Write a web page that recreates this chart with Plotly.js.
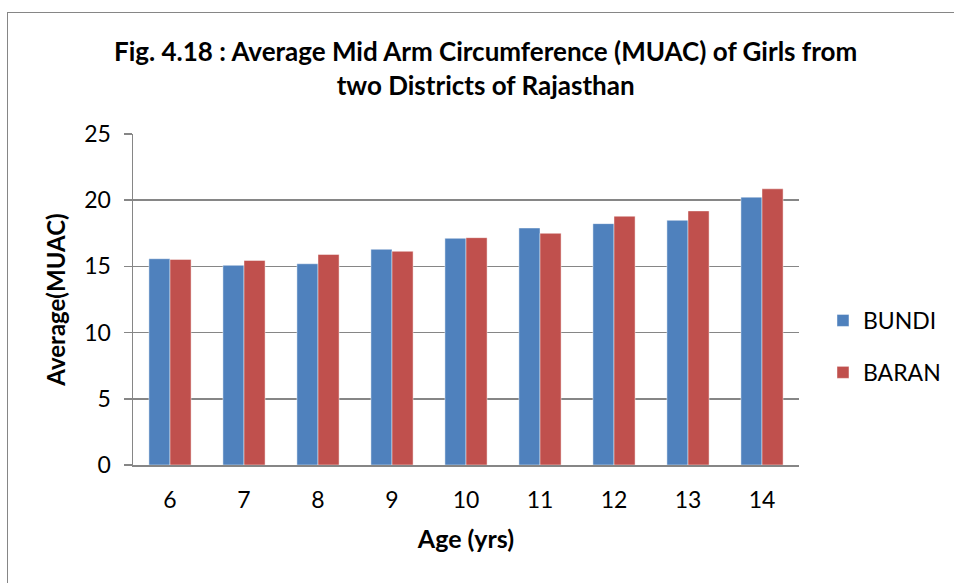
<!DOCTYPE html>
<html>
<head>
<meta charset="utf-8">
<script src="https://cdn.plot.ly/plotly-3.0.1.min.js"></script>
<style>
html, body { margin: 0; padding: 0; background: #ffffff; }
#chart { position: absolute; left: 0; top: 0; width: 954px; height: 583px; }
#frame { position: absolute; left: 7px; top: 12px; width: 960px; height: 600px; border: 1px solid #868686; pointer-events: none; }
</style>
</head>
<body>
<div id="chart"></div>
<div id="frame"></div>
<script>
const ages = ['6', '7', '8', '9', '10', '11', '12', '13', '14'];
const bundi = [15.58, 15.08, 15.2, 16.29, 17.12, 17.9, 18.23, 18.48, 20.23];
const baran = [15.53, 15.45, 15.9, 16.14, 17.17, 17.5, 18.79, 19.19, 20.86];
const yTicks = [0, 5, 10, 15, 20, 25];
const titleLines = ['Fig. 4.18 : Average Mid Arm Circumference (MUAC) of Girls from', 'two Districts of Rajasthan'];

const FONT = 'Lato, "Open Sans", "DejaVu Sans", sans-serif';

const traces = [
  {
    type: 'bar', name: 'BUNDI', x: ages, y: bundi, legendgroup: 'a',
    marker: { color: '#4F81BD', line: { color: 'rgba(255,255,255,0.45)', width: 1 } },
    hoverinfo: 'skip'
  },
  {
    type: 'bar', name: 'BARAN', x: ages, y: baran, legendgroup: 'b',
    marker: { color: '#C0504D', line: { color: 'rgba(255,255,255,0.45)', width: 1 } },
    hoverinfo: 'skip'
  }
];

const layout = {
  width: 954, height: 583,
  paper_bgcolor: 'rgba(0,0,0,0)', plot_bgcolor: 'rgba(0,0,0,0)',
  margin: { l: 133, r: 155, t: 134, b: 118, autoexpand: false },
  barmode: 'group', bargap: 0.43, bargroupgap: 0,
  font: { family: FONT, size: 23, color: '#000000' },
  annotations: [{
    xref: 'paper', yref: 'paper', x: 0.530, y: 1.199, xanchor: 'center', yanchor: 'middle',
    text: '<b>' + titleLines.join('<br>') + '</b>', showarrow: false, align: 'center',
    font: { family: FONT, size: 26, color: '#000000' }
  }],
  xaxis: {
    type: 'category', categoryarray: ages, automargin: false,
    showline: true, linecolor: '#868686', linewidth: 1.5,
    ticks: '', showgrid: false, zeroline: false,
    tickfont: { family: FONT, size: 23, color: '#000' },
    ticklabelstandoff: 14,
    title: { text: '<b>Age (yrs)</b>', font: { family: FONT, size: 25, color: '#000' }, standoff: 18 }
  },
  yaxis: {
    range: [0, 25], tickvals: yTicks, ticktext: yTicks.map(String), automargin: false,
    showline: true, linecolor: '#868686', linewidth: 1.5,
    ticks: 'outside', ticklen: 8, tickcolor: '#868686', tickwidth: 1.5,
    showgrid: true, gridcolor: '#868686', gridwidth: 1.5, zeroline: false,
    tickfont: { family: FONT, size: 23, color: '#000' },
    ticklabelstandoff: 8,
    title: { text: '<b>Average(MUAC)</b>', font: { family: FONT, size: 24, color: '#000' }, standoff: 12 }
  },
  legend: {
    x: 1.036, xanchor: 'left', y: 0.358, yanchor: 'middle',
    font: { family: FONT, size: 23, color: '#000' },
    tracegroupgap: 19, bgcolor: 'rgba(0,0,0,0)'
  },
  showlegend: true
};

Plotly.newPlot('chart', traces, layout, { staticPlot: true, displayModeBar: false });
</script>
</body>
</html>
